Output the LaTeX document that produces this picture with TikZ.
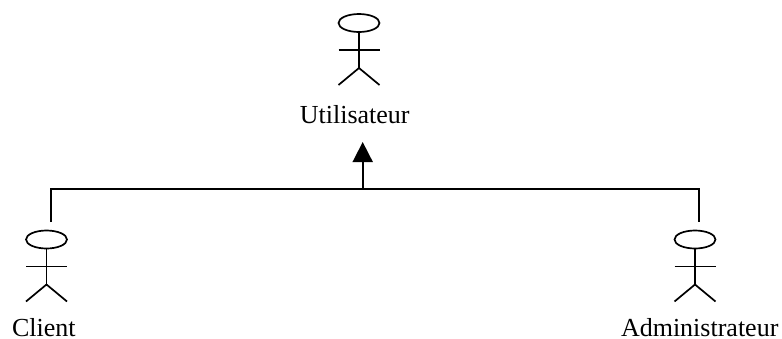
\documentclass[tikz,border=0pt]{standalone}
\usepackage{fontspec}
\setmainfont{Liberation Serif}
\usetikzlibrary{arrows.meta,calc}
\tikzset{
    actorline/.style={line width=1.7pt},
    actorlabel/.style={inner sep=0pt,anchor=base,font=\fontsize{26}{30}\selectfont}
}
\begin{document}
\begin{tikzpicture}[x=1pt,y=-1pt]
\useasboundingbox (0,0) rectangle (782,338);

\coordinate (cUtil) at (359,23);
\coordinate (cClient) at (46.5,239.5);
\coordinate (cAdmin) at (695,239.5);

\foreach \v in {cUtil,cClient,cAdmin}
{
    \draw[actorline] (\v) ellipse (20.5 and 9);
    \draw[actorline] ($(\v)+(0,9)$) -- ($(\v)+(0,45)$);
    \draw[actorline] ($(\v)+(-20.5,27)$) -- ($(\v)+(20.5,27)$);
    \draw[actorline] ($(\v)+(-20.5,62)$) -- ($(\v)+(0,45)$) -- ($(\v)+(20.5,62)$);
};

\node[actorlabel] (nUtil) at (354.7,123.5) {Utilisateur};
\node[actorlabel] (nClient) at (43.8,336.5) {Client};
\node[actorlabel] (nAdmin) at (699.7,336.5) {Administrateur};

\coordinate (cLeft) at (51,222);
\coordinate (cRight) at (699,222);
\coordinate (cMid) at (362.7,189);
\coordinate (cTip) at (362.7,142);

\draw[actorline] (cLeft) -- (cLeft |- cMid) -- (cRight |- cMid) -- (cRight);
\draw[actorline,-{Triangle[length=20pt,width=20pt]}] (cMid) -- (cTip);

\end{tikzpicture}
\end{document}
